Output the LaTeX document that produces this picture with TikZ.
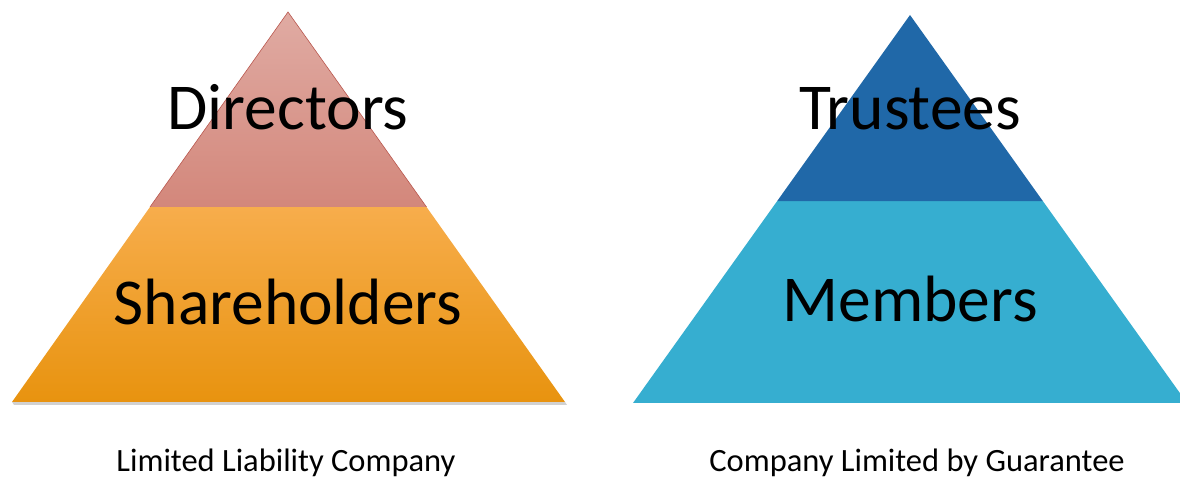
\documentclass[tikz,border=0pt]{standalone}
\usepackage{xcolor}
\usepackage{fontspec}
\setmainfont{Carlito}
\usetikzlibrary{calc}

\definecolor{dirtop}{HTML}{E0ABA3}
\definecolor{dirbot}{HTML}{D3877B}
\definecolor{dirline}{HTML}{B9574E}
\definecolor{shtop}{HTML}{F7AD4C}
\definecolor{shbot}{HTML}{E8930F}
\definecolor{trustblue}{HTML}{2068A8}
\definecolor{memblue}{HTML}{36AED0}

\tikzset{
  bigword/.style={anchor=base, font=\fontsize{65.5}{65.5}\selectfont},
  caption/.style={anchor=base, font=\fontsize{32.5}{32.5}\selectfont},
}

\begin{document}
\begin{tikzpicture}[x=1pt,y=1pt]
          \useasboundingbox (0,0) rectangle (1180,478);
          \clip (0,0) rectangle (1180,478);

          % left pyramid
          \coordinate (A) at (12,76);
          \coordinate (B) at (565,76);
          \coordinate (C) at (288,466);
          \coordinate (AC) at ($(A)!0.5!(C)$);
          \coordinate (BC) at ($(B)!0.5!(C)$);

          \fill[gray!60, opacity=0.6] ($(A)+(2,-3)$) -- ($(B)+(2,-3)$) -- (B) -- (A) -- cycle;
          \shade[top color=shtop, bottom color=shbot] (A) -- (B) -- (BC) -- (AC) -- cycle;
          \shade[top color=dirtop, bottom color=dirbot] (AC) -- (BC) -- (C) -- cycle;
          \draw[dirline, line width=0.6pt] (AC) -- (C) -- (BC);

          % right pyramid
          \coordinate (D) at (633,75);
          \coordinate (E) at (1187,75);
          \coordinate (F) at (910,463);
          \coordinate (DF) at ($(D)!0.52!(F)$);
          \coordinate (EF) at ($(E)!0.52!(F)$);

          \fill[memblue] (D) -- (E) -- (EF) -- (DF) -- cycle;
          \fill[trustblue] (DF) -- (EF) -- (F) -- cycle;

          \node[bigword] (directors) at (288,348) {Directors};
          \node[bigword] (shareholders) at (288,153) {Shareholders};
          \node[bigword] (trustees) at (910,348) {Trustees};
          \node[bigword] (members) at (910,156) {Members};

          \node[caption] (llc) at (286,6) {Limited Liability Company};
          \node[caption] (clg) at (917,6) {Company Limited by Guarantee};
\end{tikzpicture}
\end{document}
